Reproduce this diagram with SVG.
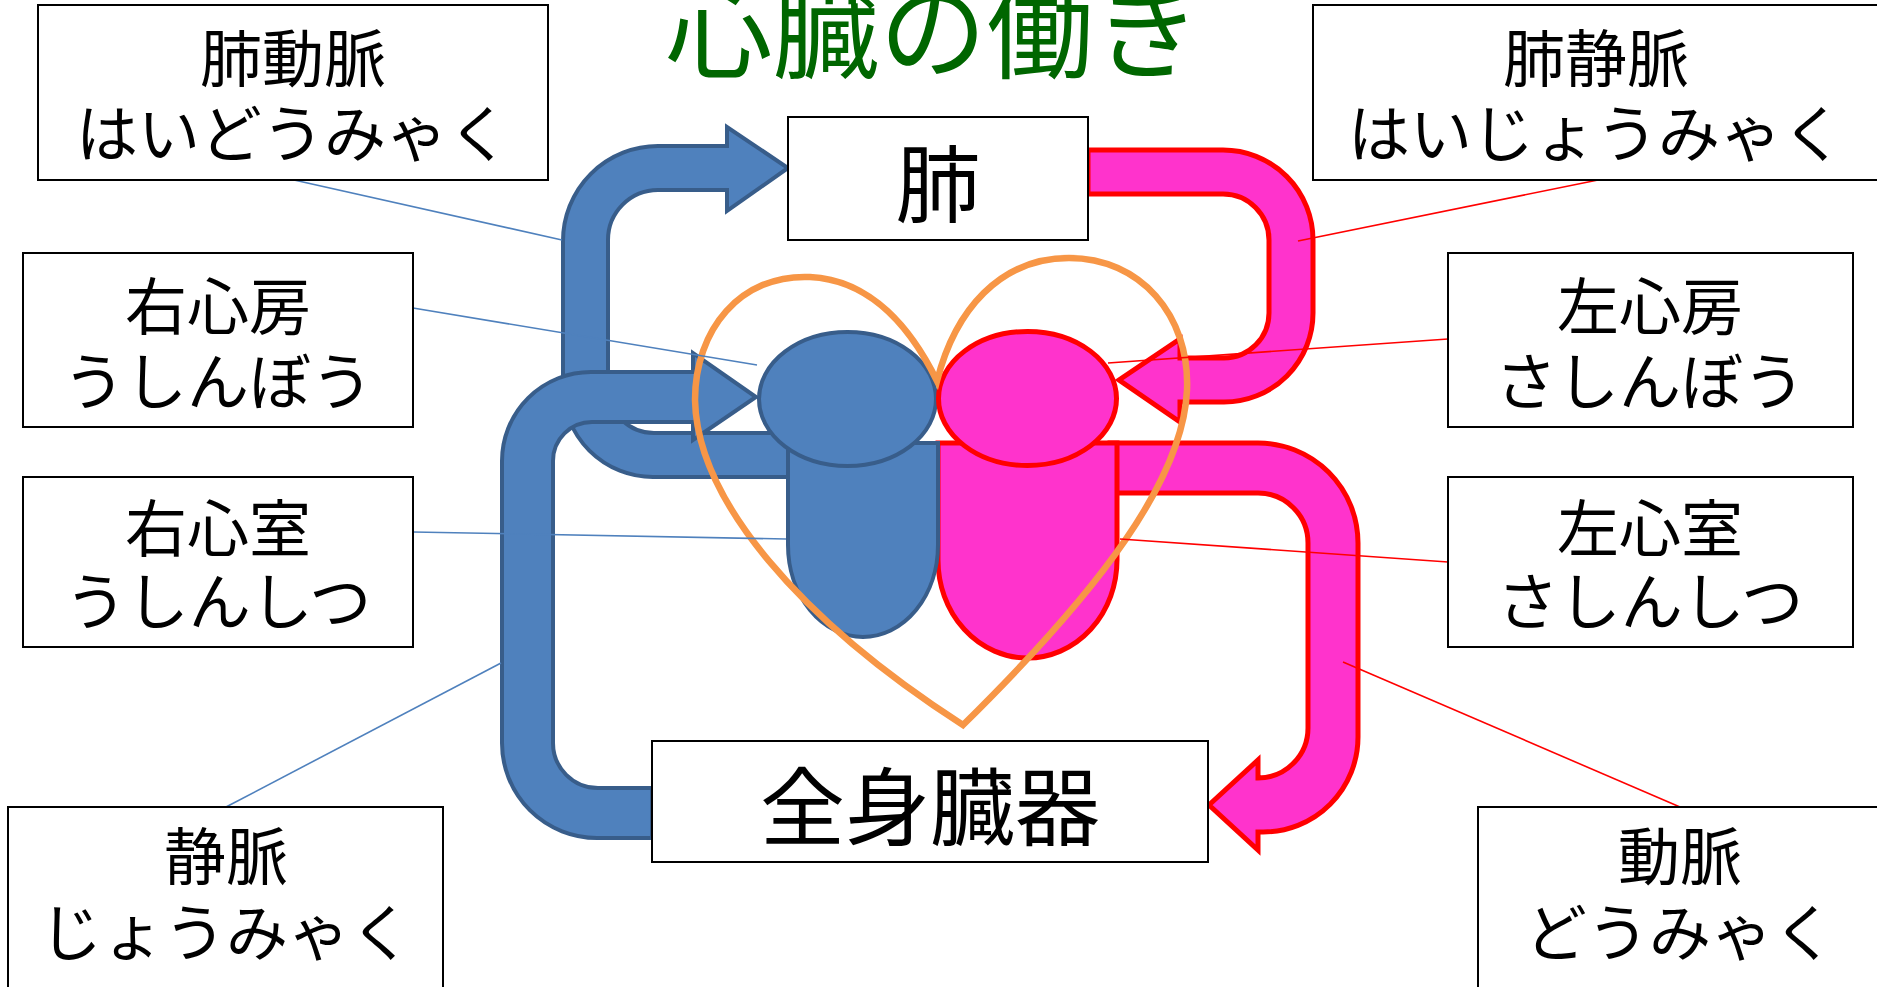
<svg xmlns="http://www.w3.org/2000/svg" width="1877" height="987" viewBox="0 0 1877 987">
  <style>
    .box { fill: #ffffff; stroke: #000000; stroke-width: 2; }
    .lbl { font-family: "Noto Sans CJK JP", "Noto Sans CJK SC", sans-serif; font-weight: 400; font-size: 62px; fill: #000000; text-anchor: middle; }
    .big { font-size: 85px; }
    .title { font-family: "Noto Sans CJK JP", "Noto Sans CJK SC", sans-serif; font-weight: 400; font-size: 107px; fill: #006600; text-anchor: middle; }
    .blue { fill: #4F81BD; stroke: #385D8A; stroke-width: 4; stroke-linejoin: miter; }
    .pink { fill: #FF33CC; stroke: #FF0000; stroke-width: 5; stroke-linejoin: miter; }
    .heart { fill: none; stroke: #F79646; stroke-width: 6.5; stroke-linejoin: miter; }
    .lb { stroke: #4F81BD; stroke-width: 1.6; fill: none; }
    .lr { stroke: #FF0000; stroke-width: 1.6; fill: none; }
  </style>

  <rect width="1877" height="987" fill="#ffffff"/>

  <!-- heading -->
  <text class="title" x="933" y="70">心臓の働き</text>

  <!-- vessels: bent arrows -->
  <g id="vessels">
    <!-- pulmonary artery: right ventricle up to the lungs -->
    <path id="pulmonary-artery" class="blue" d="M 788,477 L 653,477 A 90,90 0 0 1 563,387 L 563,241 A 95,95 0 0 1 658,146 L 727,146 L 727,127 L 788,168 L 727,211 L 727,190 L 658,190 A 50,50 0 0 0 608,240 L 608,387 A 46,46 0 0 0 654,433 L 788,433 Z"/>
    <!-- vena cava: body back into the right atrium -->
    <path id="vena-cava" class="blue" d="M 652,838 L 597,838 A 95,95 0 0 1 502,743 L 502,461 A 89,89 0 0 1 591,372 L 693,372 L 693,353 L 756,397 L 693,440 L 693,422 L 592,422 A 39,39 0 0 0 553,461 L 553,743 A 45,45 0 0 0 598,788 L 652,788 Z"/>
    <!-- pulmonary vein: lungs into the left atrium -->
    <path id="pulmonary-vein" class="pink" d="M 1088,150 L 1223,150 A 90,90 0 0 1 1313,240 L 1313,313 A 89,89 0 0 1 1224,402 L 1180,402 L 1180,422 L 1119,380 L 1180,339 L 1180,358 L 1224,358 A 45,45 0 0 0 1269,313 L 1269,240 A 46,46 0 0 0 1223,194 L 1088,194 Z"/>
    <!-- aorta: left ventricle out to the body -->
    <path id="aorta" class="pink" d="M 1110,443 L 1258,443 A 100,100 0 0 1 1358,543 L 1358,737 A 95,95 0 0 1 1263,832 L 1258,832 L 1258,850 L 1209,805 L 1258,760 L 1258,778 A 50,50 0 0 0 1308,728 L 1308,543 A 50,50 0 0 0 1258,493 L 1110,493 Z"/>
  </g>

  <!-- heart chambers -->
  <g id="left-ventricle">
    <path class="pink" d="M 938,443 L 1117,443 L 1117,560 A 89.5,98 0 0 1 938,560 Z"/>
  </g>
  <g id="right-ventricle">
    <path class="blue" d="M 788,443 L 938,443 L 938,545 A 75,92 0 0 1 788,545 Z"/>
  </g>
  <g id="right-atrium">
    <ellipse class="blue" cx="847.5" cy="399" rx="88.5" ry="67"/>
  </g>
  <g id="left-atrium">
    <ellipse class="pink" cx="1027.5" cy="398.5" rx="89" ry="67"/>
  </g>

  <!-- heart outline -->
  <g id="heart-outline">
    <path class="heart" d="M 937,381 C 912,330 872,280 810,277 C 740,274 695,330 695,400 C 697,500 800,620 963,725 C 1100,590 1183,480 1187,390 C 1190,315 1140,258 1069,258 C 1000,258 955,310 937,381 Z"/>
  </g>

  <!-- leader lines -->
  <g id="connectors">
    <line class="lb" x1="294" y1="180" x2="562" y2="240"/>
    <line class="lb" x1="413" y1="308" x2="757" y2="365"/>
    <line class="lb" x1="413" y1="532" x2="786" y2="539"/>
    <line class="lb" x1="226" y1="807" x2="501" y2="663"/>
    <line class="lr" x1="1598" y1="180" x2="1298" y2="241"/>
    <line class="lr" x1="1448" y1="339" x2="1108" y2="363"/>
    <line class="lr" x1="1448" y1="562" x2="1120" y2="539"/>
    <line class="lr" x1="1680" y1="807" x2="1343" y2="662"/>
  </g>

  <!-- nodes -->
  <g id="lung">
    <rect class="box" x="788" y="117" width="300" height="123"/>
    <text class="lbl big" x="938" y="216">肺</text>
  </g>
  <g id="body-organs">
    <rect class="box" x="652" y="741" width="556" height="121"/>
    <text class="lbl big" x="930" y="839">全身臓器</text>
  </g>
  <g id="label-pulmonary-artery">
    <rect class="box" x="38" y="5" width="510" height="175"/>
    <text class="lbl" x="293" y="82">肺動脈</text>
    <text class="lbl" x="293" y="157">はいどうみゃく</text>
  </g>
  <g id="label-right-atrium">
    <rect class="box" x="23" y="253" width="390" height="174"/>
    <text class="lbl" x="218" y="330">右心房</text>
    <text class="lbl" x="218" y="405">うしんぼう</text>
  </g>
  <g id="label-right-ventricle">
    <rect class="box" x="23" y="477" width="390" height="170"/>
    <text class="lbl" x="218" y="552">右心室</text>
    <text class="lbl" x="218" y="625">うしんしつ</text>
  </g>
  <g id="label-vein">
    <rect class="box" x="8" y="807" width="435" height="200"/>
    <text class="lbl" x="226" y="880">静脈</text>
    <text class="lbl" x="226" y="956">じょうみゃく</text>
  </g>
  <g id="label-pulmonary-vein">
    <rect class="box" x="1313" y="5" width="580" height="175"/>
    <text class="lbl" x="1596" y="82">肺静脈</text>
    <text class="lbl" x="1596" y="157">はいじょうみゃく</text>
  </g>
  <g id="label-left-atrium">
    <rect class="box" x="1448" y="253" width="405" height="174"/>
    <text class="lbl" x="1650" y="330">左心房</text>
    <text class="lbl" x="1650" y="405">さしんぼう</text>
  </g>
  <g id="label-left-ventricle">
    <rect class="box" x="1448" y="477" width="405" height="170"/>
    <text class="lbl" x="1650" y="552">左心室</text>
    <text class="lbl" x="1650" y="625">さしんしつ</text>
  </g>
  <g id="label-artery">
    <rect class="box" x="1478" y="807" width="420" height="200"/>
    <text class="lbl" x="1680" y="880">動脈</text>
    <text class="lbl" x="1680" y="956">どうみゃく</text>
  </g>
</svg>
